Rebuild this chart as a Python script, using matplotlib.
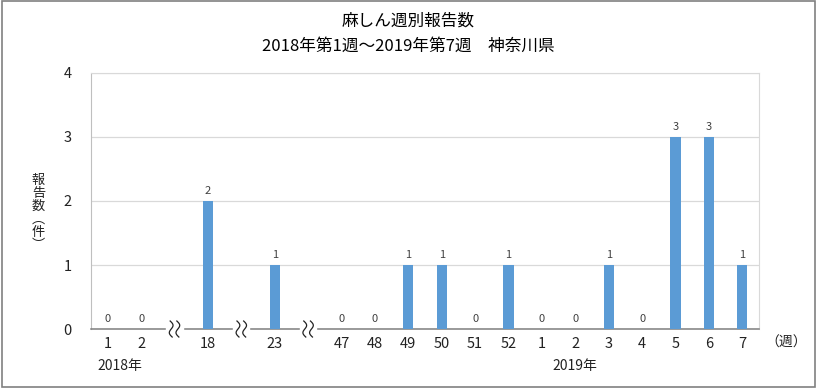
import numpy as np
import matplotlib.pyplot as plt
from matplotlib.patches import Rectangle

plt.rcParams['font.family'] = ['Noto Sans CJK JP', 'DejaVu Sans']

# week labels ('' marks the axis break slots)
weeks = ['1', '2', '', '18', '', '23', '', '47', '48', '49', '50', '51', '52',
         '1', '2', '3', '4', '5', '6', '7']
counts = [0, 0, None, 2, None, 1, None, 0, 0, 1, 1, 0, 1,
          0, 0, 1, 0, 3, 3, 1]

fig = plt.figure(figsize=(8.17, 3.88), dpi=100)
ax = fig.add_axes([0.1114, 0.152, 0.8176, 0.66])

x = np.arange(len(weeks))
for xi, c in zip(x, counts):
    if c is None:
        continue
    ax.bar(xi, c, width=0.3, color='#5B9BD5', zorder=3)
    ax.text(xi, c + 0.08, str(c), ha='center', va='bottom', fontsize=8, color='#404040')

ax.set_xlim(-0.5, len(weeks) - 0.5)
ax.set_ylim(0, 4)
ax.set_yticks([0, 1, 2, 3, 4])
ax.set_xticks(x)
ax.set_xticklabels(weeks)
ax.tick_params(axis='both', length=0, labelsize=10.5, colors='#222222')
ax.tick_params(axis='x', pad=6)
ax.tick_params(axis='y', pad=14)
ax.grid(axis='y', color='#d9d9d9', linewidth=0.9, zorder=0)

for s in ['top', 'right']:
    ax.spines[s].set_color('#d9d9d9')
ax.spines['left'].set_color('#bfbfbf')
ax.spines['bottom'].set_color('#7f7f7f')
ax.spines['bottom'].set_linewidth(1.1)

# axis break marks (two S-shaped squiggles per break)
t = np.linspace(-1, 1, 40)
for xi, c in zip(x, counts):
    if c is not None:
        continue
    ax.add_patch(Rectangle((xi - 0.24, -0.05), 0.48, 0.1, color='white',
                           clip_on=False, zorder=5))
    for dx in (-0.1, 0.1):
        xs = xi + dx - 0.03 * t + 0.07 * np.sin(t * np.pi)
        ys = 0.125 * t
        ax.plot(xs, ys, color='#222222', linewidth=0.9, clip_on=False, zorder=6)

fig.text(0.5, 0.945, '麻しん週別報告数', ha='center', va='center', fontsize=12)
fig.text(0.5, 0.88, '2018年第1週～2019年第7週\u3000神奈川県', ha='center', va='center', fontsize=12)
fig.text(0.047, 0.452, '報\n告\n数\n︵\n件\n︶', ha='center', va='center',
         fontsize=9.5, linespacing=1.0, color='#222222')
fig.text(0.962, 0.116, '（週）', ha='center', va='center', fontsize=10, color='#222222')
fig.text(0.147, 0.057, '2018年', ha='center', va='center', fontsize=10, color='#222222')
fig.text(0.704, 0.057, '2019年', ha='center', va='center', fontsize=10, color='#222222')

fig.add_artist(Rectangle((0.002, 0.003), 0.996, 0.994, transform=fig.transFigure,
                         fill=False, edgecolor='#808080', linewidth=1.2))

fig.savefig('out.png', dpi=100)
